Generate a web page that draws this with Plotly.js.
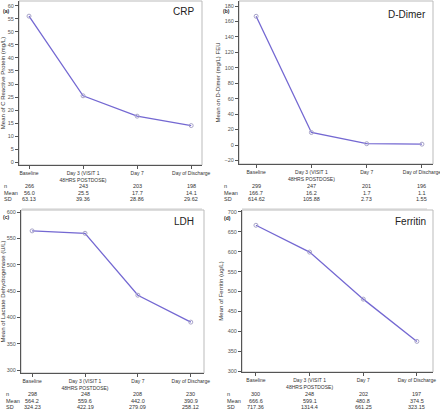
<!DOCTYPE html>
<html><head><meta charset="utf-8">
<script src="https://cdn.plot.ly/plotly-3.0.1.min.js"></script>
<style>html,body{margin:0;padding:0;background:#fff}#c{width:440px;height:413px}</style>
</head><body><div id="c"></div>
<script>
const visits = ["Baseline", "Day 3 (VISIT 1<br>48HRS POSTDOSE)", "Day 7", "Day of Discharge"];
const crpMean = [56.0, 25.5, 17.7, 14.1];
const crpN = ["266", "243", "203", "198"];
const crpMeanTxt = ["56.0", "25.5", "17.7", "14.1"];
const crpSD = ["63.13", "39.36", "28.86", "29.62"];
const ddMean = [166.7, 16.2, 1.7, 1.1];
const ddN = ["299", "247", "201", "196"];
const ddMeanTxt = ["166.7", "16.2", "1.7", "1.1"];
const ddSD = ["614.62", "105.88", "2.73", "1.55"];
const ldhMean = [564.2, 559.6, 442.0, 390.9];
const ldhN = ["298", "248", "208", "230"];
const ldhMeanTxt = ["564.2", "559.6", "442.0", "390.9"];
const ldhSD = ["324.23", "422.19", "279.09", "258.12"];
const ferMean = [666.6, 599.1, 480.8, 374.5];
const ferN = ["300", "248", "202", "197"];
const ferMeanTxt = ["666.6", "599.1", "480.8", "374.5"];
const ferSD = ["717.36", "1314.4", "661.25", "323.15"];
const rowLabels = ["n", "Mean", "SD"];

const W = 440, H = 413;
const FONT = "Liberation Sans Narrow, Liberation Sans, Arial";
const px = v => v / W, py = v => 1 - v / H;

const panels = [
  {key:"", mean:crpMean, n:crpN, mt:crpMeanTxt, sd:crpSD, name:"CRP", letter:"(a)",
   ytitle:"Mean of C Reactive Protein (mg/L)", x0:19, x1:202, y0:1, y1:165,
   xr:[-0.185,3.2], yr:[-1,61.8], dt:5, rows:[186,192.5,199], lab:[1,11], tl:[196,12], hl:[22,202,209]},
  {key:"2", mean:ddMean, n:ddN, mt:ddMeanTxt, sd:ddSD, name:"D-Dimer", letter:"(b)",
   ytitle:"Mean on D-Dimer (mg/L) FEU", x0:239, x1:433, y0:1, y1:164,
   xr:[-0.31,3.2], yr:[-24.6,186.5], dt:20, rows:[186,192.5,199], lab:[221,11], tl:[428,14], hl:[242,427,209]},
  {key:"3", mean:ldhMean, n:ldhN, mt:ldhMeanTxt, sd:ldhSD, name:"LDH", letter:"(c)",
   ytitle:"Mean of Lactate Dehydrogenase (U/L)", x0:21, x1:204, y0:210, y1:373,
   xr:[-0.21,3.25], yr:[294.3,603.8], dt:50, rows:[394,400.5,407], lab:[1,217], tl:[196,222], hl:null},
  {key:"4", mean:ferMean, n:ferN, mt:ferMeanTxt, sd:ferSD, name:"Ferritin", letter:"(d)",
   ytitle:"Mean of Ferritin (ug/L)", x0:242, x1:433, y0:210, y1:372,
   xr:[-0.26,3.3], yr:[297.5,705], dt:50, rows:[394,400.5,407], lab:[222,218], tl:[428,222], hl:null}
];

const data = [], annotations = [], shapes = [];
const layout = {width:W, height:H, margin:{l:0,r:0,t:0,b:0}, showlegend:false,
  paper_bgcolor:"#fff", plot_bgcolor:"#fff", font:{family:FONT, color:"#333"}};

panels.forEach((p, i) => {
  const xa = "xaxis" + p.key, ya = "yaxis" + p.key;
  const xr = "x" + p.key, yr = "y" + p.key;
  data.push({x: visits, y: p.mean, xaxis: xr, yaxis: yr, type: "scatter", mode: "lines+markers",
    line: {color: "#7468d2", width: 1.3},
    marker: {symbol: "circle-open", size: 4, color: "#a8a4c8", line: {width: 1, color: "#a8a4c8"}},
    cliponaxis: false});
  layout[xa] = {domain: [px(p.x0), px(p.x1)], anchor: yr, type: "category", range: p.xr,
    showgrid: false, zeroline: false, showline: true, linecolor: "#555", linewidth: 1,
    ticks: "outside", ticklen: 3, tickcolor: "#555", tickfont: {size: 5, color: "#333", family: FONT},
    fixedrange: true};
  layout[ya] = {domain: [py(p.y1), py(p.y0)], anchor: xr, range: p.yr, dtick: p.dt,
    showgrid: false, zeroline: false, showline: true, linecolor: "#555", linewidth: 1,
    ticks: "outside", ticklen: 3, tickcolor: "#555", tickfont: {size: 5.5, color: "#555", family: FONT},
    title: {text: p.ytitle, font: {size: 6, color: "#333", family: FONT}, standoff: 3},
    fixedrange: true};
  shapes.push({type: "rect", xref: "paper", yref: "paper", x0: px(p.x0), x1: px(p.x1), y0: py(p.y1), y1: py(p.y0),
    line: {color: "#bbb", width: 1}, layer: "below"});
  if (p.hl) shapes.push({type: "line", xref: "paper", yref: "paper", x0: px(p.hl[0]), x1: px(p.hl[1]),
    y0: py(p.hl[2]), y1: py(p.hl[2]), line: {color: "#ccc", width: 1}});
  annotations.push({xref: "paper", yref: "paper", x: px(p.tl[0]), y: py(p.tl[1]), text: p.name,
    showarrow: false, xanchor: "right", yanchor: "middle", font: {size: 10, color: "#222", family: FONT}});
  annotations.push({xref: "paper", yref: "paper", x: px(p.lab[0]), y: py(p.lab[1]), text: "<b>" + p.letter + "</b>",
    showarrow: false, xanchor: "left", yanchor: "middle", font: {size: 5, color: "#222", family: FONT}});
  const rowsVals = [p.n, p.mt, p.sd];
  rowLabels.forEach((lbl, r) => {
    annotations.push({xref: "paper", yref: "paper", x: px(p.x0 - 17), y: py(p.rows[r]), text: lbl,
      showarrow: false, xanchor: "left", yanchor: "middle", font: {size: 5.5, color: "#333", family: FONT}});
    rowsVals[r].forEach((v, k) => {
      annotations.push({xref: xr, yref: "paper", x: visits[k], y: py(p.rows[r]), text: v,
        showarrow: false, xanchor: "center", yanchor: "middle", font: {size: 5.5, color: "#333", family: FONT}});
    });
  });
});
layout.annotations = annotations;
layout.shapes = shapes;
Plotly.newPlot("c", data, layout, {displayModeBar: false, staticPlot: true});
</script></body></html>
